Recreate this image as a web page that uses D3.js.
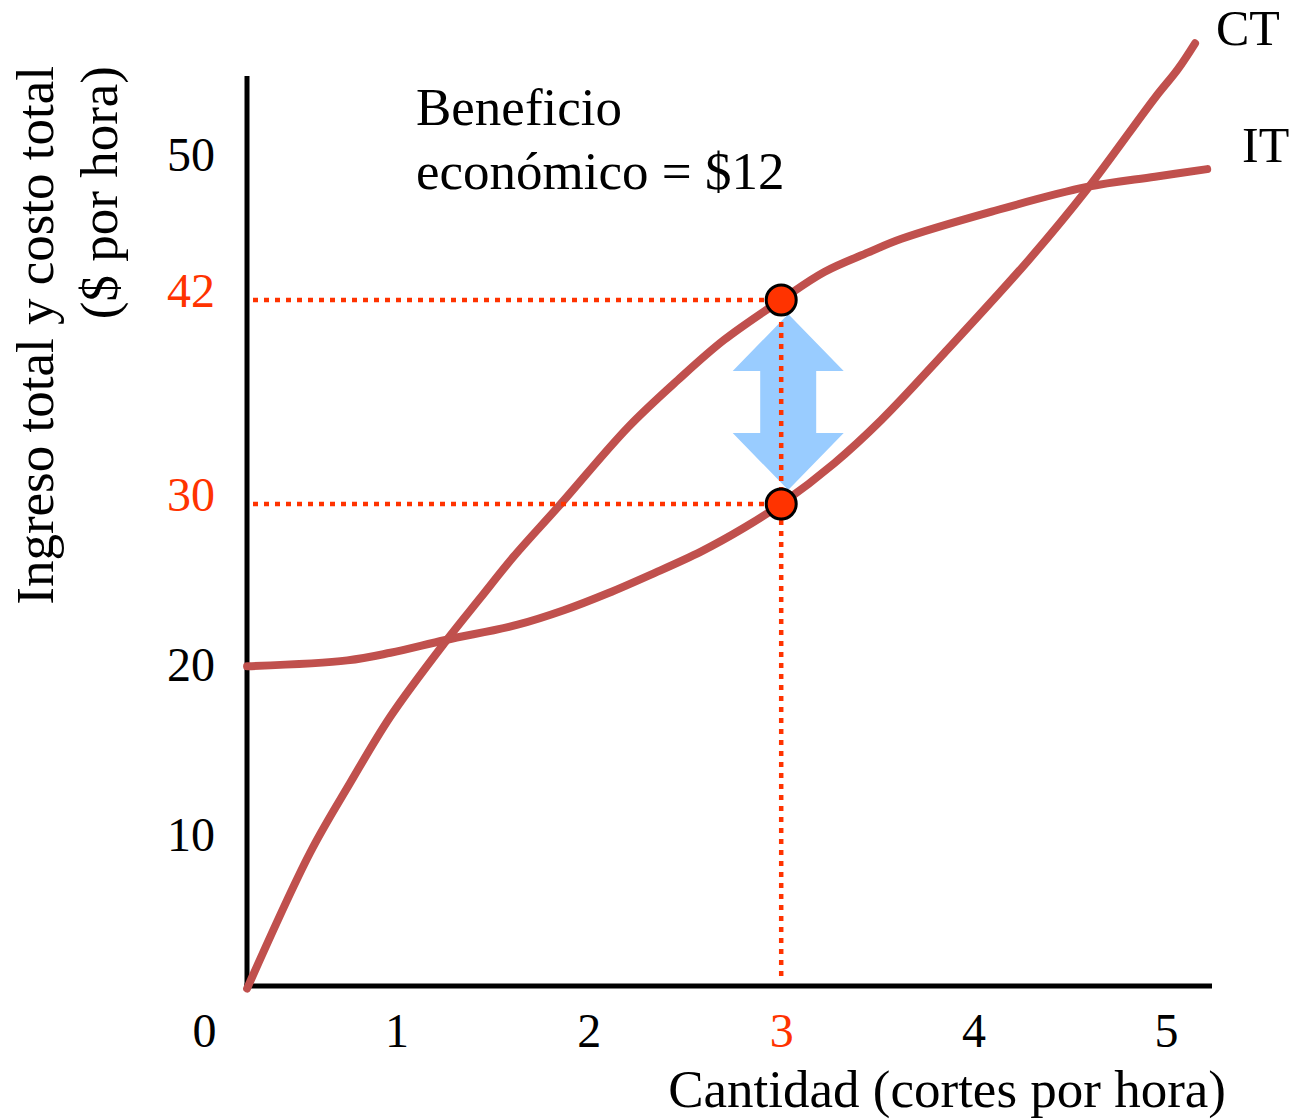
<!DOCTYPE html>
<html><head><meta charset="utf-8">
<script src="https://cdn.jsdelivr.net/npm/d3@7"></script>
<style>body{margin:0;background:#fff}</style>
</head><body>
<svg id="chart" width="1291" height="1119"></svg>
<script>
// ---- data ----
const xTickValues = [0, 1, 2, 3, 4, 5];
const xTickLabels = ["0", "1", "2", "3", "4", "5"];
const yTickValues = [10, 20, 30, 42, 50];
const highlightTicks = [3, 30, 42];

// Ingreso total (IT)
const itQ = [0.224, 0.552, 0.760, 0.969, 1.255, 1.438, 1.609, 1.854, 2.203, 2.464, 2.703, 3.0, 3.224, 3.453, 3.625, 4.094, 4.589, 4.943, 5.214];
const itV = [1.5, 9.5, 13.6, 17.5, 21.9, 24.5, 26.9, 30.0, 34.5, 37.3, 39.65, 42.0, 43.65, 44.8, 45.6, 47.2, 48.65, 49.25, 49.7];

// Costo total (CT)
const ctQ = [0.224, 0.745, 0.969, 1.255, 1.630, 1.870, 2.099, 2.323, 2.583, 2.807, 3.0, 3.276, 3.521, 3.849, 4.286, 4.589, 4.943, 5.06, 5.151];
const ctV = [20.45, 20.8, 21.25, 22.0, 22.9, 23.75, 24.75, 25.85, 27.2, 28.6, 30.0, 32.4, 34.95, 38.9, 44.35, 48.5, 53.9, 55.55, 57.1];

const profitQ = 3, profitIT = 42, profitCT = 30;

// ---- layout ----
const axisLeftX = 247, axisTopY = 76, axisBottomY = 986, axisRightX = 1212;
const serif = "'Liberation Serif','Times New Roman',serif";
const curveColor = "#C0504D", hiColor = "#FF3300", arrowColor = "#99CCFF";

const x = d3.scaleLinear().domain([0, 5]).range([204, 1166]);
const y = d3.scaleLinear().domain([0, 50]).range([1014, 164]);

const svg = d3.select("#chart");

// axes lines
svg.append("line").attr("x1", axisLeftX).attr("x2", axisLeftX)
  .attr("y1", axisTopY).attr("y2", axisBottomY + 2.5)
  .attr("stroke", "#000").attr("stroke-width", 5);
svg.append("line").attr("x1", axisLeftX - 2.5).attr("x2", axisRightX)
  .attr("y1", axisBottomY).attr("y2", axisBottomY)
  .attr("stroke", "#000").attr("stroke-width", 5);

// y tick labels
const gy = svg.append("g").attr("transform", `translate(${axisLeftX},0)`)
  .call(d3.axisLeft(y).tickValues(yTickValues).tickSize(0).tickPadding(32));
gy.select(".domain").remove();
gy.attr("font-family", null).attr("font-size", null);
gy.selectAll("text")
  .attr("font-family", serif).attr("font-size", 48)
  .attr("y", -9)
  .attr("fill", d => highlightTicks.includes(d) ? hiColor : "#000");

// x tick labels
const gx = svg.append("g").attr("transform", `translate(0,${axisBottomY})`)
  .call(d3.axisBottom(x).tickValues(xTickValues).tickFormat((d, i) => xTickLabels[i]).tickSize(0));
gx.select(".domain").remove();
gx.attr("font-family", null).attr("font-size", null);
gx.selectAll("text")
  .attr("font-family", serif).attr("font-size", 48)
  .attr("y", 61).attr("dy", 0)
  .attr("fill", d => highlightTicks.includes(d) && d !== 0 ? hiColor : "#000");

// curves
const line = d3.line().x(d => x(d[0])).y(d => y(d[1])).curve(d3.curveCatmullRom.alpha(0.5));
const itData = itQ.map((q, i) => [q, itV[i]]);
const ctData = ctQ.map((q, i) => [q, ctV[i]]);
svg.append("path").datum(ctData).attr("d", line)
  .attr("fill", "none").attr("stroke", curveColor).attr("stroke-width", 8).attr("stroke-linecap", "round");
svg.append("path").datum(itData).attr("d", line)
  .attr("fill", "none").attr("stroke", curveColor).attr("stroke-width", 8).attr("stroke-linecap", "round");

// double arrow between the two points
const ax = x(profitQ) + 7;
const yTop = y(profitIT) + 14, yBot = y(profitCT) - 14;
const headH = 57, headHalf = 55.5, shaftHalf = 28;
const arrowPts = [
  [ax, yTop], [ax + headHalf, yTop + headH], [ax + shaftHalf, yTop + headH],
  [ax + shaftHalf, yBot - headH], [ax + headHalf, yBot - headH], [ax, yBot],
  [ax - headHalf, yBot - headH], [ax - shaftHalf, yBot - headH],
  [ax - shaftHalf, yTop + headH], [ax - headHalf, yTop + headH]
];
svg.append("polygon").attr("points", arrowPts.map(p => p.join(",")).join(" "))
  .attr("fill", arrowColor);

// dotted guide lines
function guide(x1, y1, x2, y2) {
  svg.append("line").attr("x1", x1).attr("y1", y1).attr("x2", x2).attr("y2", y2)
    .attr("stroke", hiColor).attr("stroke-width", 4.5).attr("stroke-dasharray", "5,6");
}
guide(axisLeftX + 6, y(profitIT), x(profitQ), y(profitIT));
guide(axisLeftX + 6, y(profitCT), x(profitQ), y(profitCT));
guide(x(profitQ), y(profitIT), x(profitQ), axisBottomY - 4);

// points
svg.selectAll("circle.pt").data([profitIT, profitCT]).join("circle")
  .attr("class", "pt").attr("cx", x(profitQ)).attr("cy", d => y(d)).attr("r", 15)
  .attr("fill", hiColor).attr("stroke", "#000").attr("stroke-width", 3);

// texts
const T = (t, px, py, opts = {}) => svg.append("text").text(t).attr("x", px).attr("y", py)
  .attr("font-family", serif).attr("font-size", opts.size || 53)
  .attr("text-anchor", opts.anchor || "start").attr("fill", opts.fill || "#000");

T("Beneficio", 416, 125);
T("económico = $12", 416, 189);
T("CT", 1216, 45, { size: 50 });
T("IT", 1242, 162, { size: 50 });
T("Cantidad (cortes por hora)", 1226, 1107, { anchor: "end" });

svg.append("text").text("Ingreso total y costo total")
  .attr("transform", "translate(53,66) rotate(-90)")
  .attr("font-family", serif).attr("font-size", 53).attr("text-anchor", "end");
svg.append("text").text("($ por hora)")
  .attr("transform", "translate(117,66) rotate(-90)")
  .attr("font-family", serif).attr("font-size", 53).attr("text-anchor", "end");
</script>
</body></html>
